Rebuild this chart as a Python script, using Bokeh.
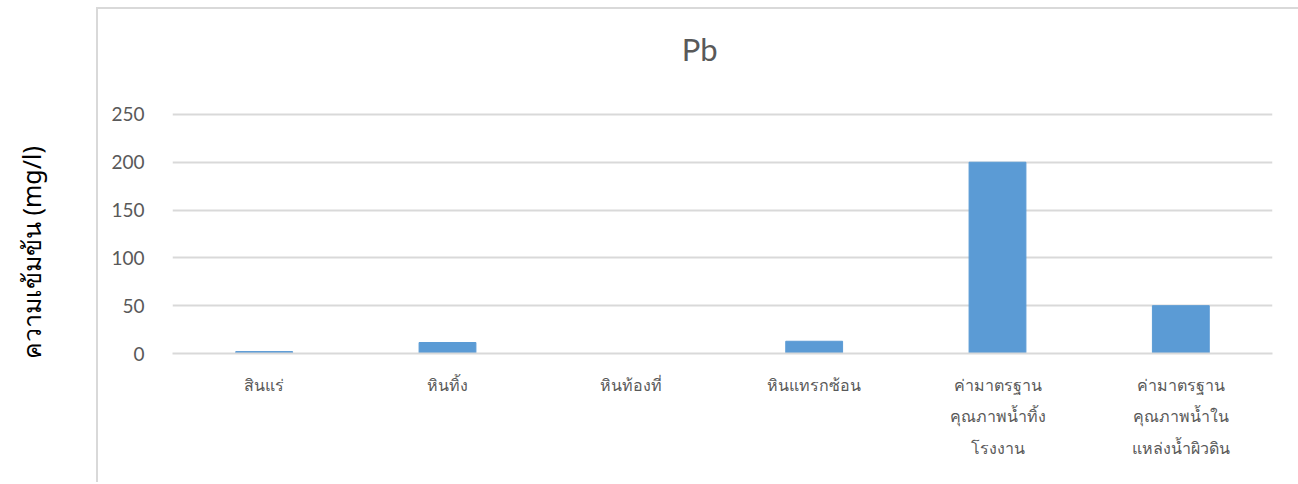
import math
from bokeh.plotting import figure
from bokeh.models import ColumnDataSource, FactorRange, Range1d, Spacer
from bokeh.layouts import row, column
from bokeh.core.properties import value
from bokeh.embed import file_html
from bokeh.resources import INLINE

categories = ["สินแร่", "หินทิ้ง", "หินท้องที่", "หินแทรกซ้อน",
              "ค่ามาตรฐาน\nคุณภาพน้ำทิ้ง\nโรงงาน",
              "ค่ามาตรฐาน\nคุณภาพน้ำใน\nแหล่งน้ำผิวดิน"]
pb_values = [2, 11.5, 0, 12.8, 200, 50]
y_ticks = [0, 50, 100, 150, 200, 250]
y_title = "ความเข้มข้น (mg/l)"
chart_title = "Pb"


def blank(w, h):
    f = figure(width=w, height=h, x_range=Range1d(0, w), y_range=Range1d(0, h),
               output_backend="svg", toolbar_location=None,
               min_border_left=0, min_border_right=0, min_border_top=0, min_border_bottom=0)
    f.axis.visible = False
    f.grid.visible = False
    f.outline_line_color = None
    return f


# left strip with the rotated y-axis title
lab = blank(96, 484)
lab.text(x=[30], y=[484 - 252], text=[y_title], angle=math.pi / 2,
         text_align="center", text_baseline="middle",
         text_font=value("Noto Sans"), text_font_size="25px", text_color="#000000")

# title strip (top part of the chart area)
tfig = blank(1202, 80)
tfig.styles = {"border-left": "2px solid #d9d9d9", "border-top": "2px solid #d9d9d9"}
tfig.text(x=[576], y=[41], text=[chart_title], text_align="center", text_baseline="middle",
          text_font=value("Lato"), text_font_size="31px", text_color="#595959")

src = ColumnDataSource(dict(cat=categories, val=pb_values))

p = figure(width=1202, height=395, x_range=FactorRange(*categories),
           y_range=Range1d(0, 252), output_backend="svg", toolbar_location=None,
           min_border_left=74, min_border_right=28, min_border_top=25,
           min_border_bottom=129)
p.styles = {"border-left": "2px solid #d9d9d9"}
p.vbar(x="cat", top="val", width=0.31, source=src, color="#5B9BD5")

p.outline_line_color = None
p.xgrid.grid_line_color = None
p.ygrid.grid_line_color = "#d9d9d9"
p.ygrid.grid_line_width = 2
p.yaxis.ticker = y_ticks
p.yaxis.axis_line_color = None
p.yaxis.major_tick_line_color = None
p.yaxis.minor_tick_line_color = None
p.yaxis.major_label_text_font = "Lato"
p.yaxis.major_label_text_font_size = "19px"
p.yaxis.major_label_text_color = "#595959"
p.yaxis.major_label_standoff = 22

p.xaxis.axis_line_color = "#d9d9d9"
p.xaxis.axis_line_width = 2
p.xaxis.major_tick_line_color = None
p.xaxis.minor_tick_line_color = None
p.xaxis.major_label_text_font = "Noto Sans"
p.xaxis.major_label_text_font_size = "16px"
p.xaxis.major_label_text_color = "#595959"
p.xaxis.major_label_text_line_height = 1.45
p.xaxis.major_label_standoff = 14

layout = row(lab, column(Spacer(width=1202, height=7), tfig, p))

open("out.html", "w").write(file_html(layout, INLINE))
